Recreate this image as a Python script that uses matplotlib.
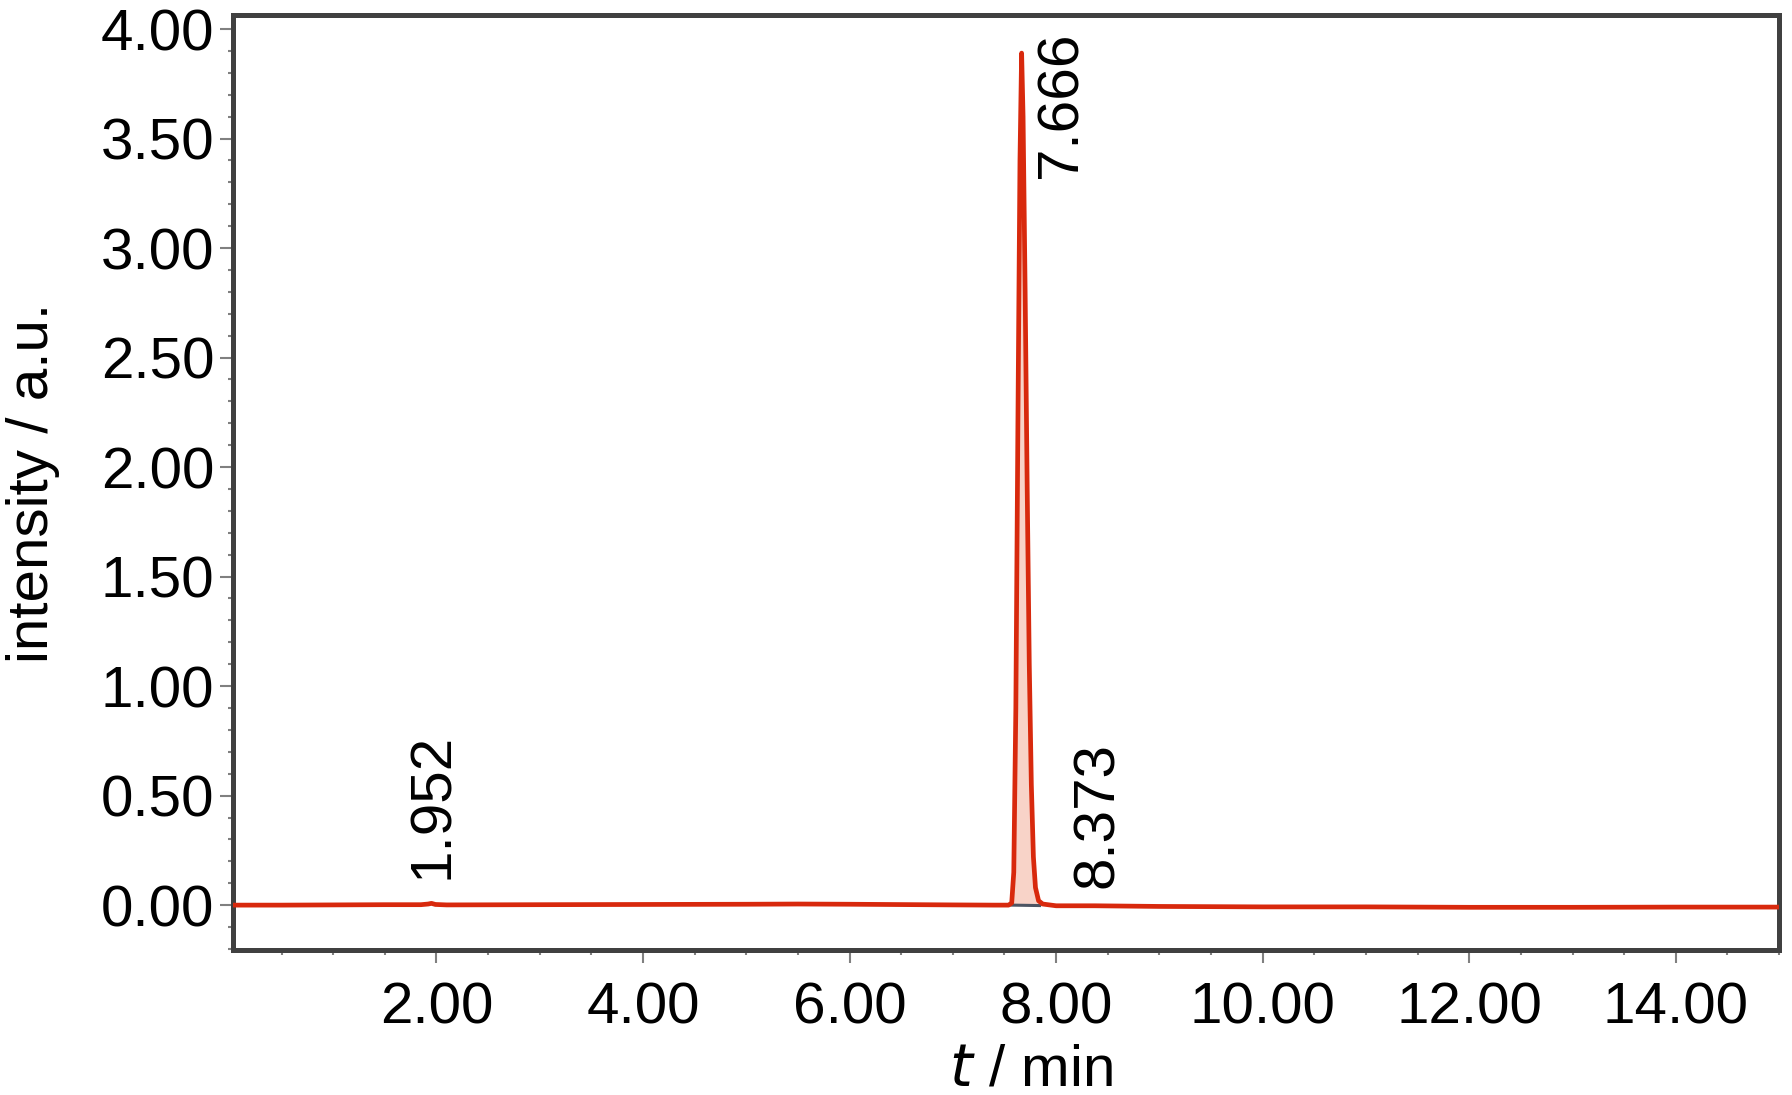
import numpy as np
import matplotlib.pyplot as plt
from matplotlib.ticker import MultipleLocator, FormatStrFormatter

plt.rcParams['font.family'] = ['Liberation Sans', 'DejaVu Sans']

# chromatogram trace (time in min, intensity in a.u.)
t_base_left = [0.03, 0.5, 1.0, 1.5, 1.85, 1.92, 1.952, 1.99, 2.1, 3.0, 4.0, 5.0, 5.5, 6.0, 7.0, 7.40, 7.54]
y_base_left = [0.000, 0.000, 0.001, 0.002, 0.002, 0.005, 0.008, 0.003, 0.001, 0.002, 0.003, 0.004, 0.005, 0.004, 0.001, 0.000, 0.000]

t_peak = [7.57, 7.59, 7.61, 7.63, 7.65, 7.666, 7.68, 7.70, 7.72, 7.74, 7.76, 7.78, 7.80, 7.83, 7.87]
y_peak = [0.010, 0.150, 0.900, 2.200, 3.400, 3.890, 3.600, 2.800, 1.900, 1.100, 0.550, 0.220, 0.080, 0.020, 0.005]

t_base_right = [8.0, 8.373, 9.0, 10.0, 11.0, 12.0, 13.0, 14.0, 15.0]
y_base_right = [-0.003, -0.003, -0.006, -0.008, -0.008, -0.010, -0.010, -0.009, -0.009]

# integration baseline under the main peak
t_integ = [7.57, 7.84]
y_integ = [0.0, -0.002]

peak_labels = ['1.952', '7.666', '8.373']
label_t = [1.97, 8.05, 8.41]
label_y = [0.12, 3.32, 0.08]

FS = 42

t = np.array(t_base_left + t_peak + t_base_right)
y = np.array(y_base_left + y_peak + y_base_right)

fig = plt.figure(figsize=(17.92, 10.95), dpi=100)
ax = fig.add_axes([0.130, 0.1324, 0.8628, 0.8539])

tp = np.array([7.54] + t_peak)
yp = np.array([0.0] + y_peak)
ax.fill_between(tp, np.interp(tp, t_integ, y_integ), yp, color='#f8d3c8', lw=0, zorder=1)
ax.plot(t_integ, y_integ, color='#4d5563', lw=2.2, zorder=2)
ax.plot(t, y, color='#d8290d', lw=3.4, zorder=3, solid_joinstyle='round')

for lab, lx, ly in zip(peak_labels, label_t, label_y):
    ax.text(lx, ly, lab, rotation=90, ha='center', va='bottom', fontsize=FS, color='black')

ax.set_xlim(0.03, 15.0)
ax.set_ylim(-0.205, 4.064)

ax.xaxis.set_major_locator(MultipleLocator(2))
ax.xaxis.set_minor_locator(MultipleLocator(0.5))
ax.yaxis.set_major_locator(MultipleLocator(0.5))
ax.yaxis.set_minor_locator(MultipleLocator(0.1))
ax.xaxis.set_major_formatter(FormatStrFormatter('%.2f'))
ax.yaxis.set_major_formatter(FormatStrFormatter('%.2f'))

ax.tick_params(axis='both', which='major', direction='out', length=9.5, width=1.5,
               color='#808080', labelsize=FS, pad=4)
ax.tick_params(axis='both', which='minor', direction='out', length=3.8, width=1.5,
               color='#808080')
ax.tick_params(axis='x', which='major', pad=13)

for s in ax.spines.values():
    s.set_linewidth(3.6)
    s.set_color('#404040')

ax.set_ylabel('intensity / a.u.', fontsize=FS)
ax.yaxis.set_label_coords(-0.112, 0.5)
ax.set_xlabel(r'$\mathit{t}$ / min', fontsize=FS, va='top')
ax.xaxis.set_label_coords(0.516, -0.100)

fig.savefig('out.png', dpi=100)
